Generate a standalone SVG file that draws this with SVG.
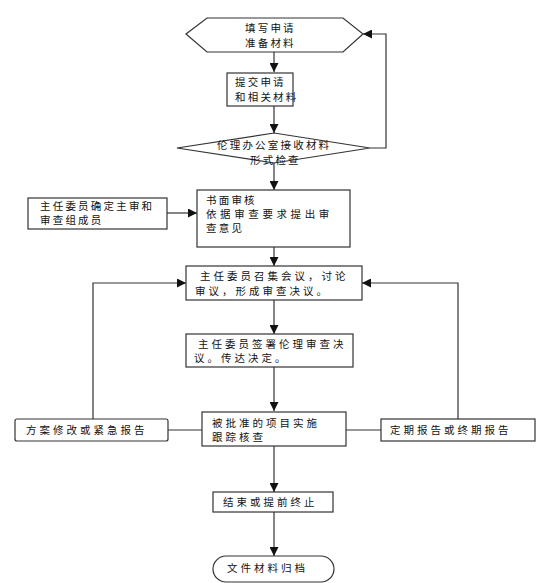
<svg xmlns="http://www.w3.org/2000/svg" width="551" height="583" viewBox="0 0 551 583">
<style>
.s{fill:#fff;stroke:#333;stroke-width:1.2}
.c{fill:none;stroke:#333;stroke-width:1.2}
text{font-family:"Noto Sans CJK SC","Liberation Sans",sans-serif;font-size:10.5px;fill:#111;letter-spacing:2.2px}
</style>
<defs>
<marker id="a" viewBox="0 0 10 10" refX="10" refY="5" markerWidth="9" markerHeight="9" markerUnits="userSpaceOnUse" orient="auto"><path d="M0,0L10,5L0,10Z" fill="#111"/></marker>
</defs>
<g id="connectors">
<line class="c" x1="274" y1="52" x2="274" y2="72" marker-end="url(#a)"/>
<line class="c" x1="274" y1="106" x2="274" y2="133" marker-end="url(#a)"/>
<polyline class="c" points="370,148 386,148 386,34 363,34" marker-end="url(#a)"/>
<line class="c" x1="274" y1="163" x2="274" y2="190" marker-end="url(#a)"/>
<line class="c" x1="167" y1="213" x2="197" y2="213" marker-end="url(#a)"/>
<line class="c" x1="274" y1="247" x2="274" y2="266" marker-end="url(#a)"/>
<line class="c" x1="274" y1="300" x2="274" y2="334" marker-end="url(#a)"/>
<line class="c" x1="274" y1="367" x2="274" y2="411" marker-end="url(#a)"/>
<polyline class="c" points="93,419 93,283 186,283" marker-end="url(#a)"/>
<polyline class="c" points="458,419 458,283 362,283" marker-end="url(#a)"/>
<line class="c" x1="168" y1="430" x2="202" y2="430"/>
<line class="c" x1="346" y1="430" x2="381" y2="430"/>
<line class="c" x1="274" y1="446" x2="274" y2="492" marker-end="url(#a)"/>
<line class="c" x1="274" y1="512" x2="274" y2="556" marker-end="url(#a)"/>
</g>
<g id="n1"><polygon class="s" points="186,34 207,18 343,18 363,34 343,52 207,52"/><text x="245" y="32">填写申请</text><text x="245" y="47">准备材料</text></g>
<g id="n2"><rect class="s" x="227" y="73" width="66" height="33"/><text x="235" y="86">提交申请</text><text x="235" y="101">和相关材料</text></g>
<g id="n3"><polygon class="s" points="177,148 274,133 370,148 274,163"/><text x="217" y="149">伦理办公室接收材料</text><text x="250" y="164">形式检查</text></g>
<g id="n4"><rect class="s" x="197" y="190" width="153" height="57"/><text x="206" y="204">书面审核</text><text x="206" y="218" style="letter-spacing:3.6px">依据审查要求提出审</text><text x="206" y="232">查意见</text></g>
<g id="n5"><rect class="s" x="28" y="198" width="139" height="31"/><text x="40" y="210">主任委员确定主审和</text><text x="40" y="224">审查组成员</text></g>
<g id="n6"><rect class="s" x="186" y="266" width="176" height="34"/><text x="200" y="280" style="letter-spacing:3px">主任委员召集会议，讨论</text><text x="195" y="295" style="letter-spacing:3px">审议，形成审查决议。</text></g>
<g id="n7"><rect class="s" x="186" y="334" width="167" height="33"/><text x="198" y="348" style="letter-spacing:3px">主任委员签署伦理审查决</text><text x="194" y="362" style="letter-spacing:3px">议。传达决定。</text></g>
<g id="n8"><rect class="s" x="202" y="412" width="144" height="34"/><text x="212" y="427" style="letter-spacing:3px">被批准的项目实施</text><text x="212" y="441" style="letter-spacing:3px">跟踪核查</text></g>
<g id="n9"><rect class="s" x="15" y="419" width="153" height="22" rx="2"/><text x="26" y="434" style="letter-spacing:3px">方案修改或紧急报告</text></g>
<g id="n10"><rect class="s" x="381" y="419" width="154" height="22"/><text x="390" y="434" style="letter-spacing:3px">定期报告或终期报告</text></g>
<g id="n11"><rect class="s" x="213" y="492" width="120" height="20"/><text x="223" y="506" style="letter-spacing:3px">结束或提前终止</text></g>
<g id="n12"><rect class="s" x="213" y="556" width="121" height="26" rx="13"/><text x="227" y="572" style="letter-spacing:3px">文件材料归档</text></g>
</svg>
